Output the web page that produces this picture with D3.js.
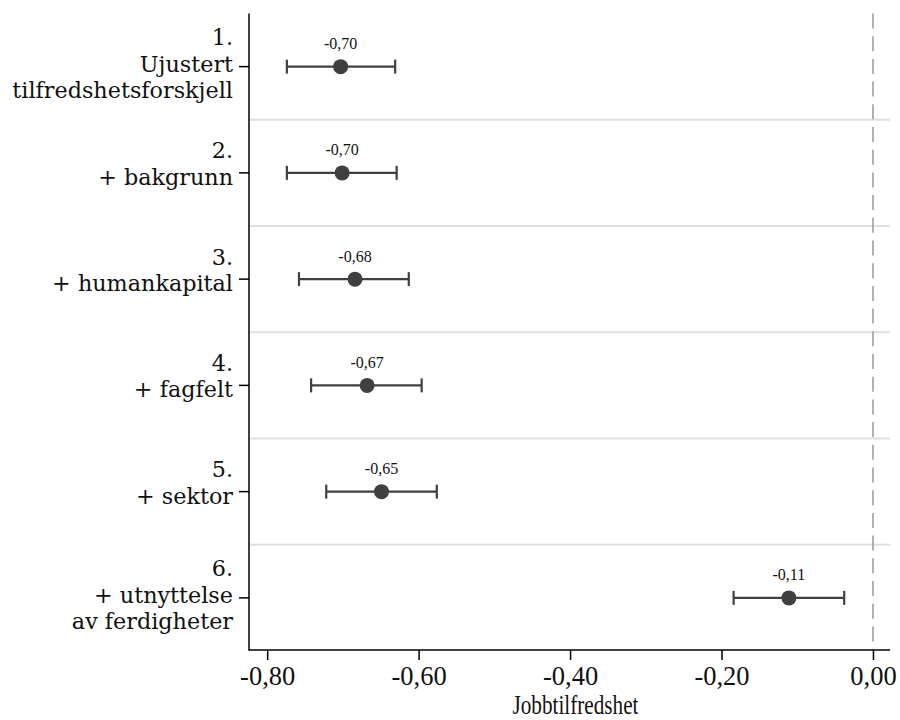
<!DOCTYPE html>
<html>
<head>
<meta charset="utf-8">
<script src="https://cdn.jsdelivr.net/npm/d3@7"></script>
<style>
  html, body { margin: 0; padding: 0; background: #fff; }
  svg { display: block; }
</style>
</head>
<body>
<svg id="chart" width="900" height="720"></svg>
<script>
// ---- data ----
const categories = ["1", "2", "3", "4", "5", "6"];
const labelLines = [
  ["1.", "Ujustert", "tilfredshetsforskjell"],
  ["2.", "+ bakgrunn"],
  ["3.", "+ humankapital"],
  ["4.", "+ fagfelt"],
  ["5.", "+ sektor"],
  ["6.", "+ utnyttelse", "av ferdigheter"]
];
const estimates = [-0.703, -0.701, -0.684, -0.668, -0.649, -0.111];
const lower     = [-0.774, -0.774, -0.758, -0.742, -0.722, -0.184];
const upper     = [-0.631, -0.629, -0.613, -0.596, -0.576, -0.038];
const xTicks    = [-0.8, -0.6, -0.4, -0.2, 0.0];
const xTitle    = "Jobbtilfredshet";

(function () {
// ---- layout ----
const svg = d3.select("#chart");
const pLeft = 249, pRight = 890, pTop = 13.5, pBottom = 651;
const axisY = 650;

const x = d3.scaleLinear().domain([-0.824, 0.0225]).range([pLeft, pRight]);
const y = d3.scaleBand().domain(categories).range([pTop, pBottom]);
const yc = c => y(c) + y.bandwidth() / 2;

const comma = v => d3.format(".2f")(v).replace(".", ",").replace("\u2212", "-");

// separators between bands
svg.append("g").selectAll("line")
  .data(categories.slice(1))
  .join("line")
  .attr("x1", pLeft + 1).attr("x2", pRight)
  .attr("y1", d => y(d)).attr("y2", d => y(d))
  .attr("stroke", "#e0e0e0").attr("stroke-width", 2.2);

// reference line at 0
svg.append("line")
  .attr("x1", x(0)).attr("x2", x(0))
  .attr("y1", pTop).attr("y2", axisY)
  .attr("stroke", "#999").attr("stroke-width", 1.5)
  .attr("stroke-dasharray", "15,7.7");

// x axis
const xAxis = svg.append("g")
  .attr("transform", `translate(0,${axisY})`)
  .call(d3.axisBottom(x).tickValues(xTicks).tickFormat(comma).tickSize(10).tickSizeOuter(0));
xAxis.select(".domain").attr("stroke", "#000").attr("stroke-width", 1.5)
  .attr("d", `M${pLeft},0H${pRight}`);
xAxis.selectAll(".tick line").attr("stroke", "#000").attr("stroke-width", 1.5);
xAxis.selectAll(".tick text")
  .attr("font-family", "'Liberation Serif', serif")
  .attr("font-size", 26.5).attr("fill", "#111").attr("dy", null).attr("y", 35);

svg.append("text")
  .attr("x", (pLeft + pRight) / 2 + 6).attr("y", 714)
  .attr("text-anchor", "middle")
  .attr("font-family", "'Liberation Serif', serif")
  .attr("font-size", 28).attr("fill", "#111")
  .attr("textLength", 126).attr("lengthAdjust", "spacingAndGlyphs")
  .text(xTitle);

// y axis
const yAxis = svg.append("g")
  .attr("transform", `translate(${pLeft},0)`)
  .call(d3.axisLeft(y).tickSize(10).tickSizeOuter(0).tickFormat(""));
yAxis.select(".domain").attr("stroke", "#000").attr("stroke-width", 1.5)
  .attr("d", `M0,${pTop}V${axisY + 0.75}`);
yAxis.selectAll(".tick line").attr("stroke", "#000").attr("stroke-width", 1.5);

// category labels
const lab = svg.append("g").selectAll("text")
  .data(categories)
  .join("text")
  .attr("text-anchor", "end")
  .attr("font-family", "'DejaVu Serif', serif")
  .attr("font-size", 22.3).attr("fill", "#111");
lab.each(function (d, i) {
  const t = d3.select(this);
  const n = labelLines[i].length;
  const shift = n === 2 ? 12 : 5;
  labelLines[i].forEach((ln, j) => {
    t.append("tspan")
      .attr("x", 233)
      .attr("y", yc(d) + (j - 1) * 26.5 + shift)
      .text(ln);
  });
});

// error bars
const g = svg.append("g");
const rows = categories.map((c, i) => ({c, est: estimates[i], lo: lower[i], hi: upper[i]}));
const col = "#404040";
g.selectAll("line.ci").data(rows).join("line").attr("class", "ci")
  .attr("x1", d => x(d.lo)).attr("x2", d => x(d.hi))
  .attr("y1", d => yc(d.c)).attr("y2", d => yc(d.c))
  .attr("stroke", col).attr("stroke-width", 2.2);
g.selectAll("line.capl").data(rows).join("line").attr("class", "capl")
  .attr("x1", d => x(d.lo)).attr("x2", d => x(d.lo))
  .attr("y1", d => yc(d.c) - 7).attr("y2", d => yc(d.c) + 7)
  .attr("stroke", col).attr("stroke-width", 2.2);
g.selectAll("line.caph").data(rows).join("line").attr("class", "caph")
  .attr("x1", d => x(d.hi)).attr("x2", d => x(d.hi))
  .attr("y1", d => yc(d.c) - 7).attr("y2", d => yc(d.c) + 7)
  .attr("stroke", col).attr("stroke-width", 2.2);
g.selectAll("circle").data(rows).join("circle")
  .attr("cx", d => x(d.est)).attr("cy", d => yc(d.c)).attr("r", 7.5)
  .attr("fill", col);
g.selectAll("text").data(rows).join("text")
  .attr("x", d => x(d.est)).attr("y", d => yc(d.c) - 17.5)
  .attr("text-anchor", "middle")
  .attr("font-family", "'Liberation Serif', serif")
  .attr("font-size", 16).attr("fill", "#111")
  .text(d => comma(d.est));
})();
</script>
</body>
</html>
